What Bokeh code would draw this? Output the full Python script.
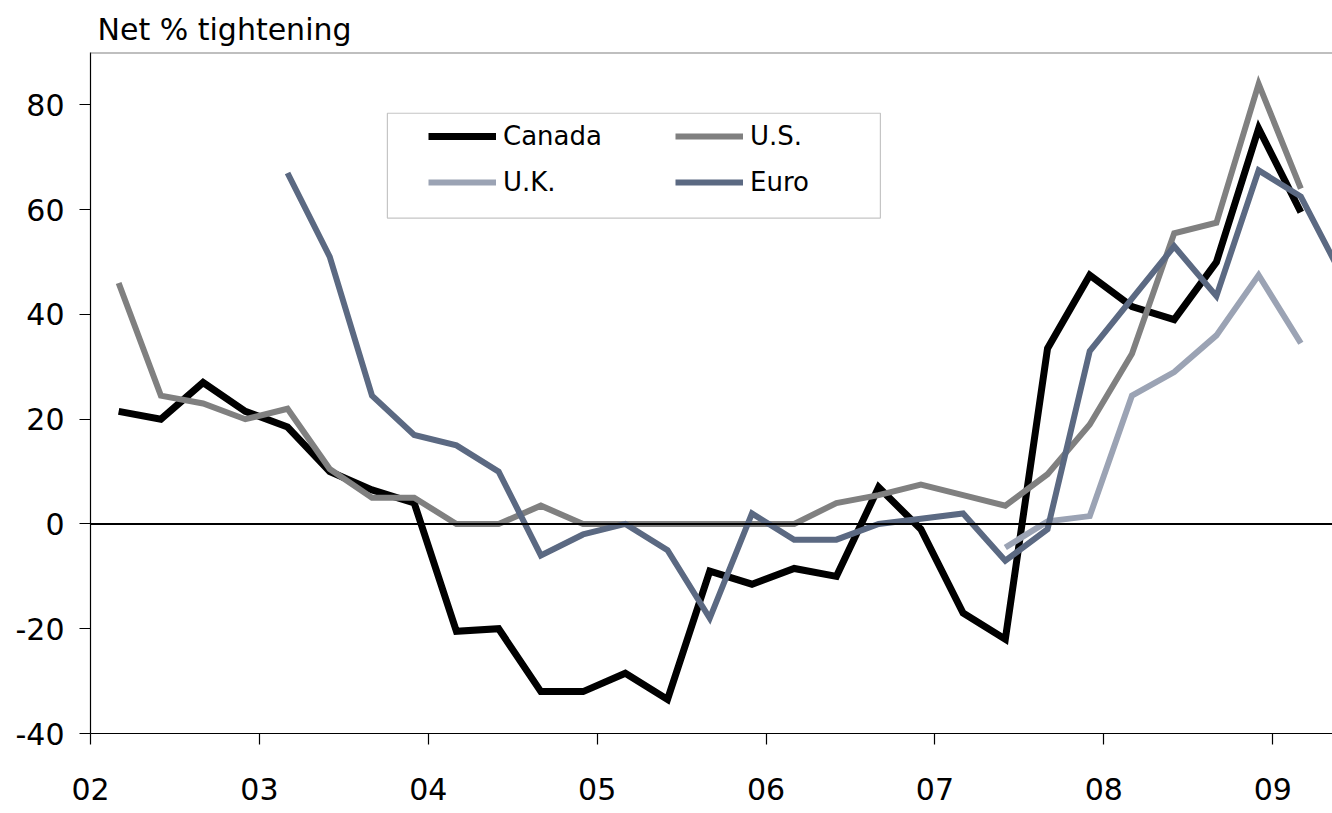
from bokeh.plotting import figure
from bokeh.models import Legend, LegendItem, FixedTicker, Span, BoxAnnotation
from bokeh.embed import file_html
from bokeh.resources import INLINE

# Quarterly survey observations (Mar, Jun, Sep, Dec), first one Mar 2002
start_year = 2002
quarter_month = [3, 6, 9, 12]

canada = [21.5, 20, 27, 21.5, 18.5, 10, 6.5, 4,
          -20.5, -20, -32, -32, -28.5, -33.5, -9, -11.5,
          -8.5, -10, 7, -1, -17, -22, 33.5, 47.5,
          41.5, 39, 50, 75.5, 59.5]
us = [46, 24.5, 23, 20, 22, 10.5, 5, 5,
      0, 0, 3.5, 0, 0, 0, 0, 0,
      0, 4, 5.5, 7.5, 5.5, 3.5, 9.5, 19,
      32.5, 55.5, 57.5, 84, 64]
uk_start = 21
uk = [-4.5, 0.5, 1.5, 24.5, 29, 36, 47.5, 34.5]
euro_start = 4
euro = [67, 51, 24.5, 17, 15, 10, -6, -2, 0, -5, -18, 2, -3, -3, 0, 1, 2,
        -7, -1, 33, 43, 53, 43.5, 67.5, 62.5, 47]

year_ticks = [2002, 2003, 2004, 2005, 2006, 2007, 2008, 2009]
year_labels = ["02", "03", "04", "05", "06", "07", "08", "09"]
y_ticks = [-40, -20, 0, 20, 40, 60, 80]
y_labels = ["-40", "-20", "0", "20", "40", "60", "80"]

series_names = ["Canada", "U.S.", "U.K.", "Euro"]
series_colors = ["#000000", "#808080", "#9ba3b4", "#5b6982"]
series_widths = [7, 6, 6, 6]


def qx(i):
    return start_year + i // 4 + (quarter_month[i % 4] - 1) / 12.0


def xs_for(start, values):
    return [qx(start + k) for k in range(len(values))]


FONT = "DejaVu Sans"

p = figure(width=1332, height=813, output_backend="svg", toolbar_location=None,
           x_range=(2002.0, 2009.354), y_range=(-40, 90),
           min_border_left=90, min_border_right=0, min_border_top=52,
           min_border_bottom=80)
p.outline_line_color = None
p.xgrid.visible = False
p.ygrid.visible = False
p.background_fill_color = "white"
p.border_fill_color = "white"

p.title.text = "Net % tightening"
p.title.text_font = FONT
p.title.text_font_size = "30px"
p.title.text_font_style = "normal"
p.title.text_color = "#000000"
p.title.align = "left"
p.title.offset = 7
p.title.standoff = 12

for ax in (p.xaxis, p.yaxis):
    ax.axis_line_color = "#000000"
    ax.axis_line_width = 1.2
    ax.major_tick_line_color = "#000000"
    ax.major_tick_line_width = 1.2
    ax.major_tick_in = 0
    ax.major_tick_out = 11
    ax.minor_tick_line_color = None
    ax.major_label_text_font = FONT
    ax.major_label_text_font_size = "30px"
    ax.major_label_text_color = "#000000"

p.xaxis.ticker = FixedTicker(ticks=year_ticks)
p.xaxis.major_label_overrides = dict(zip(year_ticks, year_labels))
p.xaxis.major_label_standoff = 33
p.yaxis.ticker = FixedTicker(ticks=y_ticks)
p.yaxis.major_label_overrides = dict(zip(y_ticks, y_labels))
p.yaxis.major_label_standoff = 15

# top frame line
p.add_layout(Span(location=90, dimension="width", line_color="#808080", line_width=2))

starts = [0, 0, uk_start, euro_start]
datas = [canada, us, uk, euro]
renderers = []
for name, col, lw, st, vals in zip(series_names, series_colors, series_widths, starts, datas):
    r = p.line(xs_for(st, vals), vals, line_color=col, line_width=lw,
               line_join="miter", line_cap="butt")
    renderers.append(r)

# zero line
p.add_layout(Span(location=0, dimension="width", line_color="#000000", line_width=2))

# legend frame
p.add_layout(BoxAnnotation(left=2003.758, right=2006.677, top=78.4, bottom=58.4,
                           fill_color="white", fill_alpha=1.0,
                           line_color="#404040", line_width=1.2, level="underlay"))

legend = Legend(items=[LegendItem(label=n, renderers=[r]) for n, r in zip(series_names, renderers)],
                location=(338, 536), orientation="horizontal", ncols=2,
                padding=0, margin=0, spacing=16,
                glyph_width=68, glyph_height=20, label_standoff=7,
                label_width=156, label_height=30,
                label_text_font=FONT, label_text_font_size="26px",
                label_text_color="#000000",
                border_line_color=None, background_fill_alpha=0)
p.add_layout(legend)

open("out.html", "w").write(file_html(p, INLINE))
